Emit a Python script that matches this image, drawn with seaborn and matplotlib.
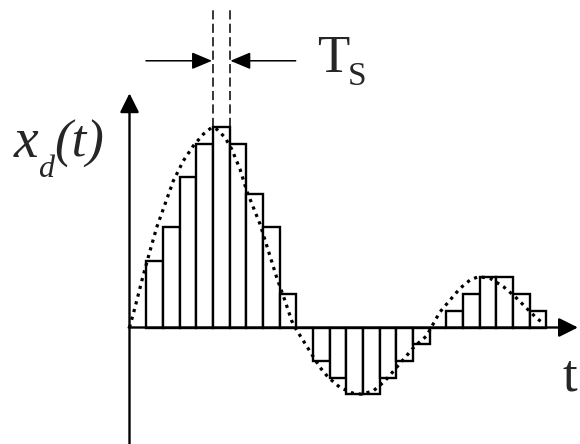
import matplotlib
matplotlib.use("Agg")
import matplotlib.pyplot as plt
import seaborn as sns
import pandas as pd
from matplotlib.patches import ArrowStyle

# Sampled (zero-order hold) values, one per sampling interval Ts
sample_index = list(range(1, 25))
sample_values = [4, 6, 9, 11, 12, 11, 8, 6, 2, 0, -2, -3, -4, -4, -3, -2,
                 -1, 0, 1, 2, 3, 3, 2, 1]

# Continuous signal x(t), in units of Ts
curve_t = [0.0, 0.33, 0.79, 1.23, 1.63, 2.13, 2.63, 3.23, 3.83, 4.43, 4.93,
           5.23, 5.73, 6.13, 6.63, 7.03, 7.43, 7.83, 8.33, 8.83, 9.33, 9.73,
           9.99, 10.43, 10.93, 11.43, 11.93, 12.63, 13.43, 13.93, 14.63,
           15.33, 15.93, 16.53, 17.13, 17.83, 18.1, 18.6, 19.23, 19.83,
           20.43, 20.93, 21.63, 22.43, 23.13, 23.83, 24.43, 24.83]
curve_v = [0.0, 1.2, 3.0, 4.6, 6.0, 7.4, 8.8, 10.0, 10.9, 11.6, 12.0,
           11.9, 11.4, 10.7, 9.5, 8.2, 7.2, 6.2, 4.6, 3.0, 1.6, 0.4,
           -0.1, -0.8, -1.6, -2.4, -3.0, -3.6, -3.95, -4.0, -3.8,
           -3.2, -2.5, -1.8, -1.1, -0.5, 0.0, 0.9, 1.65, 2.35,
           2.85, 3.05, 2.95, 2.45, 1.85, 1.15, 0.55, 0.25]

bars = pd.DataFrame({"t": [i + 0.5 for i in sample_index], "x": sample_values})
curve = pd.DataFrame({"t": curve_t, "x": curve_v})

sns.set_style("white")
SERIF = ["Liberation Serif", "DejaVu Serif"]

fig = plt.figure(figsize=(5.8, 4.44), dpi=100)
ax = fig.add_axes([0, 0, 1, 1])

sns.barplot(data=bars, x="t", y="x", native_scale=True, width=1.0,
            color="white", edgecolor="black", linewidth=1.7, saturation=1,
            errorbar=None, ax=ax, zorder=2)

sns.lineplot(data=curve, x="t", y="x", color="black", linewidth=2.3,
             dashes=False, ax=ax, zorder=4)
ax.lines[-1].set_linestyle((0, (1.0, 1.5)))

# Coordinate frame
U = 16.67  # pixels per Ts
ax.set_xlim(-129.5 / U, (580 - 129.5) / U)
ax.set_ylim((327.5 - 444) / U, 327.5 / U)
ax.axis("off")

head = ArrowStyle("-|>", head_length=0.58, head_width=0.29)
ax.annotate("", xy=(0, 14.05), xytext=(0, -7.2),
            arrowprops=dict(arrowstyle=head, lw=1.7, color="black",
                            shrinkA=0, shrinkB=0, mutation_scale=20), zorder=5)
ax.annotate("", xy=(26.9, 0), xytext=(-0.05, 0),
            arrowprops=dict(arrowstyle=head, lw=1.7, color="black",
                            shrinkA=0, shrinkB=0, mutation_scale=20), zorder=5)

# Sampling interval marker
for tx in (5, 6):
    ax.plot([tx, tx], [12, 19.1], color="black", lw=1.1,
            linestyle=(0, (6, 2.8)), zorder=3)
small_head = ArrowStyle("-|>", head_length=0.62, head_width=0.26)
ax.annotate("", xy=(4.95, 16.0), xytext=(0.99, 16.0),
            arrowprops=dict(arrowstyle=small_head, lw=1.1, color="black",
                            shrinkA=0, shrinkB=0, mutation_scale=20))
ax.annotate("", xy=(6.05, 16.0), xytext=(9.97, 16.0),
            arrowprops=dict(arrowstyle=small_head, lw=1.1, color="black",
                            shrinkA=0, shrinkB=0, mutation_scale=20))

ax.text(11.25, 15.3, "T", family=SERIF, fontsize=38, ha="left", va="baseline")
ax.text(13.1, 14.55, "S", family=SERIF, fontsize=24, ha="left", va="baseline")

ax.text(-6.95, 10.23, "x", family=SERIF, style="italic", fontsize=40,
        ha="left", va="baseline")
ax.text(-5.5, 9.03, "d", family=SERIF, style="italic", fontsize=23,
        ha="left", va="baseline")
ax.text(-4.5, 10.23, "(t)", family=SERIF, style="italic", fontsize=38,
        ha="left", va="baseline")

ax.text(26.0, -3.75, "t", family=SERIF, fontsize=38, ha="left", va="baseline")

fig.savefig("out.png", dpi=100)
